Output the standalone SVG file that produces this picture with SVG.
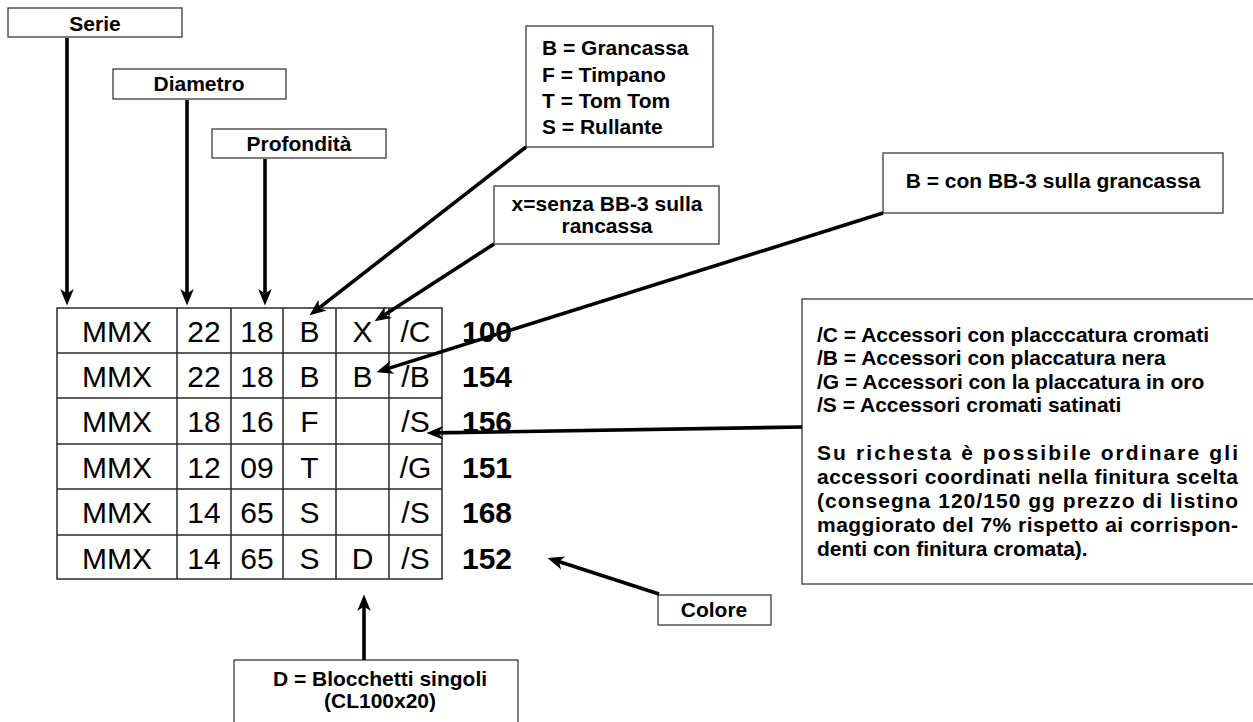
<svg xmlns="http://www.w3.org/2000/svg" width="1253" height="722" viewBox="0 0 1253 722">
<style>
.box{fill:#fff;stroke:#3a3a3a;stroke-width:1.3}
.lbl{font-family:"Liberation Sans",Arial,sans-serif;font-weight:bold;font-size:21px;fill:#000}
.mid{text-anchor:middle}
.cell{font-family:"Liberation Sans",Arial,sans-serif;font-size:30px;fill:#000;text-anchor:middle}
.num{font-family:"Liberation Sans",Arial,sans-serif;font-size:30px;font-weight:bold;fill:#000}
.grid{fill:none;stroke:#2a2a2a;stroke-width:1.5}
.con{stroke:#000;stroke-width:3.6;fill:none;marker-end:url(#ah)}
</style>
<defs>
<marker id="ah" markerUnits="userSpaceOnUse" markerWidth="18" markerHeight="16" viewBox="0 0 18 16" refX="8" refY="8" orient="auto">
<path d="M0,1.2 L16.5,8 L0,14.8 L4.5,8 Z" fill="#000"/>
</marker>
</defs>
<rect width="1253" height="722" fill="#fff"/>

<g id="table">
<rect class="grid" x="57" y="308" width="385" height="271"/>
<path class="grid" d="M177,308V579M231,308V579M283,308V579M336,308V579M389,308V579M57,353H442M57,398H442M57,444H442M57,489H442M57,535H442"/>
<g class="cell">
<text x="117" y="342">MMX</text><text x="204" y="342">22</text><text x="257" y="342">18</text><text x="309.5" y="342">B</text><text x="362.5" y="342">X</text><text x="415.5" y="342">/C</text>
<text x="117" y="387">MMX</text><text x="204" y="387">22</text><text x="257" y="387">18</text><text x="309.5" y="387">B</text><text x="362.5" y="387">B</text><text x="415.5" y="387">/B</text>
<text x="117" y="432">MMX</text><text x="204" y="432">18</text><text x="257" y="432">16</text><text x="309.5" y="432">F</text><text x="415.5" y="432">/S</text>
<text x="117" y="478">MMX</text><text x="204" y="478">12</text><text x="257" y="478">09</text><text x="309.5" y="478">T</text><text x="415.5" y="478">/G</text>
<text x="117" y="523">MMX</text><text x="204" y="523">14</text><text x="257" y="523">65</text><text x="309.5" y="523">S</text><text x="415.5" y="523">/S</text>
<text x="117" y="569">MMX</text><text x="204" y="569">14</text><text x="257" y="569">65</text><text x="309.5" y="569">S</text><text x="362.5" y="569">D</text><text x="415.5" y="569">/S</text>
</g>
<g class="num">
<text x="462" y="342">100</text><text x="462" y="387">154</text><text x="462" y="432">156</text><text x="462" y="478">151</text><text x="462" y="523">168</text><text x="462" y="569">152</text>
</g>
</g>

<g id="serie"><rect class="box" x="8" y="8" width="174" height="29"/><text class="lbl mid" x="95" y="31">Serie</text></g>
<g id="diametro"><rect class="box" x="113" y="69" width="173" height="30"/><text class="lbl mid" x="199" y="91">Diametro</text></g>
<g id="profondita"><rect class="box" x="212" y="129" width="174" height="29"/><text class="lbl mid" x="299" y="151">Profondità</text></g>
<g id="tipo"><rect class="box" x="526" y="26" width="187" height="121"/>
<text class="lbl" x="542" y="55">B = Grancassa</text><text class="lbl" x="542" y="82">F = Timpano</text><text class="lbl" x="542" y="108">T = Tom Tom</text><text class="lbl" x="542" y="134">S = Rullante</text></g>
<g id="senza"><rect class="box" x="494" y="186" width="225" height="58"/><text class="lbl mid" x="607" y="211">x=senza BB-3 sulla</text><text class="lbl mid" x="607" y="233">rancassa</text></g>
<g id="con"><rect class="box" x="883" y="153" width="340" height="60"/><text class="lbl mid" x="1053" y="188">B = con BB-3 sulla grancassa</text></g>
<g id="finiture"><rect class="box" x="802" y="299" width="470" height="285"/>
<text class="lbl" x="817" y="342">/C = Accessori con placccatura cromati</text>
<text class="lbl" x="817" y="365">/B = Accessori con placcatura nera</text>
<text class="lbl" x="817" y="389">/G = Accessori con la placcatura in oro</text>
<text class="lbl" x="817" y="412">/S = Accessori cromati satinati</text>
<text class="lbl" x="817" y="460" textLength="421" lengthAdjust="spacing">Su richesta è possibile ordinare gli</text>
<text class="lbl" x="817" y="484" textLength="421" lengthAdjust="spacing">accessori coordinati nella finitura scelta</text>
<text class="lbl" x="817" y="508" textLength="421" lengthAdjust="spacing">(consegna 120/150 gg prezzo di listino</text>
<text class="lbl" x="817" y="532" textLength="421" lengthAdjust="spacing">maggiorato del 7% rispetto ai corrispon-</text>
<text class="lbl" x="817" y="556">denti con finitura cromata).</text>
</g>
<g id="colore"><rect class="box" x="658" y="595" width="113" height="30"/><text class="lbl mid" x="714" y="617">Colore</text></g>
<g id="blocchetti"><rect class="box" x="234" y="660" width="284" height="64"/><text class="lbl mid" x="380" y="686">D = Blocchetti singoli</text><text class="lbl mid" x="380" y="708">(CL100x20)</text></g>

<g id="connectors">
<line class="con" x1="67" y1="38" x2="67" y2="297"/>
<line class="con" x1="187" y1="100" x2="187" y2="297"/>
<line class="con" x1="265" y1="159" x2="265" y2="297"/>
<line class="con" x1="526" y1="147" x2="316.3" y2="310.1"/>
<line class="con" x1="494" y1="244" x2="381.7" y2="316.7"/>
<line class="con" x1="883" y1="213" x2="384.6" y2="369.6"/>
<line class="con" x1="802" y1="427" x2="435" y2="432.9"/>
<line class="con" x1="659" y1="594" x2="555.6" y2="560.5"/>
<line class="con" x1="364" y1="660" x2="364" y2="603"/>
</g>
</svg>
